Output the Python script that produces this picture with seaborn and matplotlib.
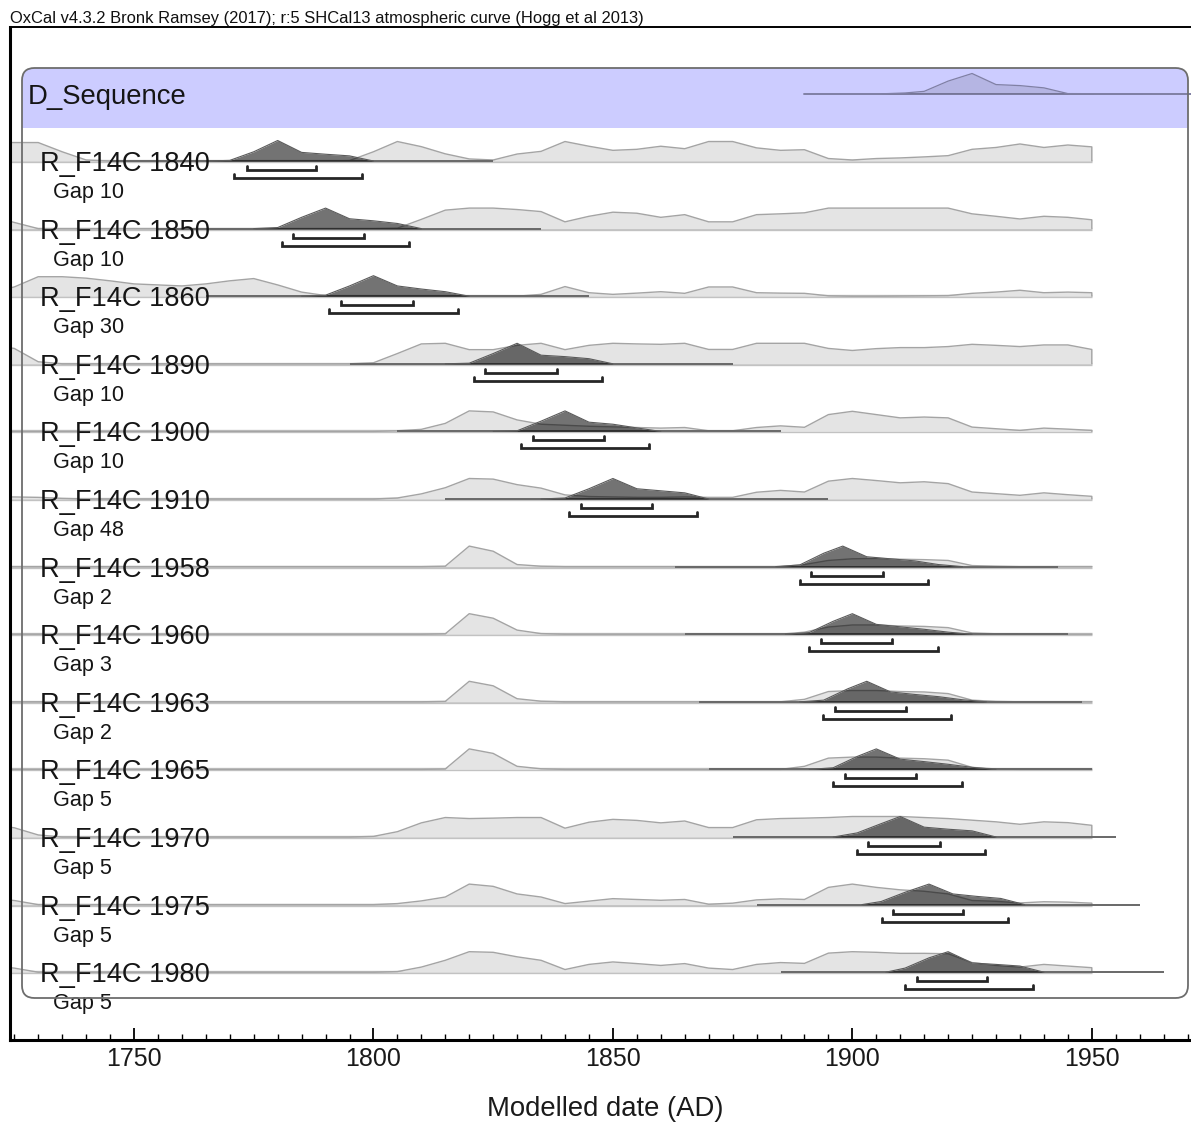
import numpy as np
import pandas as pd
import matplotlib
matplotlib.use("Agg")
import matplotlib.pyplot as plt
import seaborn as sns
from matplotlib.patches import FancyBboxPatch, Rectangle
from matplotlib.ticker import MultipleLocator

sns.set_theme(style="white")
plt.rcParams['font.family'] = ['Liberation Sans', 'DejaVu Sans']

# ---------------- data ----------------
ROW_LABELS = ["R_F14C 1840", "R_F14C 1850", "R_F14C 1860", "R_F14C 1890", "R_F14C 1900",
              "R_F14C 1910", "R_F14C 1958", "R_F14C 1960", "R_F14C 1963", "R_F14C 1965",
              "R_F14C 1970", "R_F14C 1975", "R_F14C 1980"]
GAP_LABELS = ["Gap 10", "Gap 10", "Gap 30", "Gap 10", "Gap 10", "Gap 48", "Gap 2",
              "Gap 3", "Gap 2", "Gap 5", "Gap 5", "Gap 5", "Gap 5"]

# likelihood (unmodelled) grid, 1720..1950 every 5 years
LIK_YEARS = list(range(1720, 1951, 5))
LIK_1840 = [.9, .9, .9, .45, .05, 0, 0, 0, 0, 0, 0, 0, 0, 0, 0, .02, .45, .95, .7, .35, .1, .05, .34, .47,
            .95, .72, .52, .57, .72, .6, .95, .95, .64, .52, .55, .12, .05, .12, .15, .2, .26, .57, .66, .83,
            .66, .78, .69]
LIK_1850 = [.6, .3, 0, 0, 0, 0, 0, 0, 0, 0, 0, 0, 0, 0, 0, 0, 0, .02, .45, .9, 1.0, 1.0, .93, .83,
            .33, .6, .8, .75, .55, .68, .33, .33, .68, .72, .77, 1.0, 1.0, 1.0, 1.0, 1.0, 1.0, .72, .6, .47,
            .6, .55, .43]
LIK_1860 = [.2, .45, .95, .95, .88, .75, .6, .55, .5, .6, .75, .86, .55, .2, .03, 0, 0, 0, 0, 0, 0, 0, 0, .09,
            .47, .17, .09, .15, .22, .14, .45, .45, .17, .15, .14, .02, 0, 0, .01, .02, .03, .14, .2, .29,
            .17, .2, .17]
LIK_1890 = [.9, .75, .1, 0, 0, 0, 0, 0, 0, 0, 0, 0, 0, 0, 0, 0, .05, .5, .97, 1.0, .69, .69, .9, 1.0,
            .69, .9, 1.0, .97, .95, 1.0, .7, .7, 1.0, 1.0, 1.0, .75, .65, .74, .79, .79, .84, .95, .9, .84,
            .92, .92, .7]
LIK_1900 = [0, 0, 0, 0, 0, 0, 0, 0, 0, 0, 0, 0, 0, 0, 0, 0, 0, .03, .1, .39, 1.0, .95, .56, .35,
            .3, .25, .22, .19, .16, .19, .03, .03, .19, .27, .2, .82, .98, .82, .66, .7, .66, .21, .13, .05,
            .16, .11, .05]
LIK_1910 = [.1, .1, .08, .03, 0, 0, 0, 0, 0, 0, 0, 0, 0, 0, 0, 0, 0, .05, .25, .55, 1.0, .97, .7, .53,
            .2, .12, .1, .08, .08, .1, .08, .08, .33, .42, .34, .87, 1.0, .9, .79, .84, .75, .34, .26, .18,
            .3, .21, .13]
LIK_1958 = [0, 0, 0, 0, 0, 0, 0, 0, 0, 0, 0, 0, 0, 0, 0, 0, 0, 0, 0, .02, 1.0, .75, .1, .02,
            0, 0, 0, 0, 0, 0, 0, 0, 0, 0, .1, .3, .38, .4, .36, .34, .3, .05, .02, 0,
            0, 0, 0]
LIK_1960 = [0, 0, 0, 0, 0, 0, 0, 0, 0, 0, 0, 0, 0, 0, 0, 0, 0, 0, 0, .02, 1.0, .78, .2, .03,
            0, 0, 0, 0, 0, 0, 0, 0, 0, 0, .1, .35, .45, .45, .4, .38, .32, .06, .02, 0,
            0, 0, 0]
LIK_1963 = [0, 0, 0, 0, 0, 0, 0, 0, 0, 0, 0, 0, 0, 0, 0, 0, 0, 0, 0, .02, 1.0, .78, .15, .03,
            0, 0, 0, 0, 0, 0, 0, 0, 0, 0, .12, .5, .55, .55, .5, .48, .4, .08, .02, 0,
            0, 0, 0]
LIK_1965 = [0, 0, 0, 0, 0, 0, 0, 0, 0, 0, 0, 0, 0, 0, 0, 0, 0, 0, 0, .02, 1.0, .78, .15, .03,
            0, 0, 0, 0, 0, 0, 0, 0, 0, 0, .15, .55, .6, .6, .55, .52, .45, .1, .02, 0,
            0, 0, 0]
LIK_1970 = [.6, .45, .1, 0, 0, 0, 0, 0, 0, 0, 0, 0, 0, 0, 0, 0, .03, .26, .69, .95, .9, .92, .95, .95,
            .43, .72, .86, .81, .69, .78, .46, .46, .84, .9, .92, .95, 1.0, 1.0, 1.0, .95, .9, .82, .74, .62,
            .74, .7, .57]
LIK_1975 = [.3, .2, 0, 0, 0, 0, 0, 0, 0, 0, 0, 0, 0, 0, 0, 0, 0, .05, .18, .37, 1.0, .89, .52, .37,
            .05, .17, .29, .25, .21, .25, .02, .07, .23, .28, .25, .84, 1.0, .84, .72, .65, .52, .2, .16, .08,
            .14, .12, .07]
LIK_1980 = [.3, .2, 0, 0, 0, 0, 0, 0, 0, 0, 0, 0, 0, 0, 0, 0, 0, .03, .25, .58, 1.0, .97, .75, .58,
            .13, .38, .5, .42, .33, .42, .2, .13, .38, .47, .43, .93, 1.0, .97, .92, .92, .9, .47, .33, .25,
            .38, .3, .22]
LIKELIHOODS = [LIK_1840, LIK_1850, LIK_1860, LIK_1890, LIK_1900, LIK_1910, LIK_1958, LIK_1960,
               LIK_1963, LIK_1965, LIK_1970, LIK_1975, LIK_1980]

# posterior (modelled) distributions
POST_YEARS = [
    [1765, 1770, 1775, 1780, 1785, 1790, 1795, 1800],
    [1775, 1780, 1785, 1790, 1795, 1800, 1805, 1810],
    [1785, 1790, 1795, 1800, 1805, 1810, 1815, 1820],
    [1815, 1820, 1825, 1830, 1835, 1840, 1845, 1850],
    [1825, 1830, 1835, 1840, 1845, 1850, 1855, 1860],
    [1835, 1840, 1845, 1850, 1855, 1860, 1865, 1870],
    [1884, 1889, 1894, 1898, 1903, 1908, 1913, 1918, 1923],
    [1886, 1891, 1896, 1900, 1905, 1910, 1915, 1920, 1925],
    [1889, 1894, 1899, 1903, 1908, 1913, 1918, 1923, 1928],
    [1891, 1896, 1901, 1905, 1910, 1915, 1920, 1925, 1930],
    [1896, 1901, 1906, 1910, 1915, 1920, 1925, 1930],
    [1902, 1906, 1911, 1916, 1921, 1926, 1931, 1936],
    [1907, 1911, 1916, 1920, 1925, 1930, 1935, 1940],
]
POST_PROB = [
    [0, .03, .45, 1.0, .42, .33, .25, 0],
    [0, .05, .55, 1.0, .48, .38, .25, 0],
    [0, .05, .5, 1.0, .5, .35, .22, 0],
    [0, .03, .5, 1.0, .42, .35, .25, 0],
    [0, .03, .5, 1.0, .45, .35, .17, 0],
    [0, .05, .5, 1.0, .5, .4, .3, 0],
    [0, .08, .65, 1.0, .48, .38, .28, .1, 0],
    [0, .08, .63, 1.0, .48, .36, .24, .1, 0],
    [0, .08, .63, 1.0, .48, .36, .25, .1, 0],
    [0, .08, .63, 1.0, .5, .38, .25, .1, 0],
    [0, .2, .65, 1.0, .48, .38, .3, 0],
    [0, .15, .6, 1.0, .52, .4, .3, 0],
    [0, .2, .7, 1.0, .45, .38, .3, 0],
]
POST_SPAN = [(1745, 1825), (1755, 1835), (1765, 1845), (1795, 1875), (1805, 1885), (1815, 1895),
             (1863, 1943), (1865, 1945), (1868, 1948), (1870, 1950), (1875, 1955), (1880, 1960),
             (1885, 1965)]
RANGE_68 = [(1773.5, 1788.1), (1783.3, 1798.1), (1793.3, 1808.2), (1823.2, 1838.3), (1833.3, 1848.1),
            (1843.3, 1858.2), (1891.4, 1906.3), (1893.5, 1908.2), (1896.4, 1911.3), (1898.5, 1913.2),
            (1903.3, 1918.2), (1908.4, 1923.2), (1913.6, 1928.2)]
RANGE_95 = [(1770.9, 1797.7), (1780.8, 1807.5), (1790.8, 1817.6), (1820.9, 1847.7), (1830.8, 1857.5),
            (1840.8, 1867.6), (1889.1, 1915.9), (1891.0, 1917.8), (1893.9, 1920.7), (1896.0, 1922.8),
            (1901.0, 1927.6), (1906.1, 1932.6), (1910.9, 1937.7)]
LIK_END = 1950

SEQ_YEARS = [1890, 1905, 1911, 1915, 1920, 1925, 1930, 1935, 1940, 1945, 1975]
SEQ_PROB = [0, 0, .05, .13, .63, 1.0, .46, .41, .3, .02, 0]

TITLE = "OxCal v4.3.2 Bronk Ramsey (2017); r:5 SHCal13 atmospheric curve (Hogg et al 2013)"
SEQ_NAME = "D_Sequence"
XLABEL = "Modelled date (AD)"
XTICKS = [1750, 1800, 1850, 1900, 1950]

# ---------------- layout ----------------
W, H = 1191, 1122
fig = plt.figure(figsize=(W / 100, H / 100), dpi=100)
fig.patch.set_facecolor("white")
AX_TOP, AX_BOT, AX_LEFT = 27, 1040, 10
ax = fig.add_axes([AX_LEFT / W, 1 - AX_BOT / H, 1 - AX_LEFT / W, (AX_BOT - AX_TOP) / H])
PXY = 4.789                       # pixels per year
X0 = 1750 - (134 - AX_LEFT) / PXY
X1 = 1750 + (W - 134) / PXY
ax.set_xlim(X0, X1)
ax.set_ylim(AX_BOT, AX_TOP)       # vertical axis in pixel rows
ax.set_facecolor("white")

ROW0, ROWSTEP, HSCALE = 161, 67.6, 20.5
BOX_L, BOX_R, BOX_T, BOX_B, HEAD_B = 22, 1188, 68, 998, 128
yr = lambda px: X0 + (px - AX_LEFT) / PXY

# sequence box
box = FancyBboxPatch((yr(BOX_L), BOX_T), yr(BOX_R) - yr(BOX_L), BOX_B - BOX_T,
                     boxstyle="round,pad=0,rounding_size=2.6", mutation_aspect=PXY,
                     fc="none", ec="#6d6d6d", lw=1.3, zorder=8)
ax.add_patch(box)
head = Rectangle((yr(BOX_L), BOX_T), yr(BOX_R) - yr(BOX_L), HEAD_B - BOX_T,
                 fc="#ccccff", ec="none", zorder=0.5)
ax.add_patch(head)
head.set_clip_path(box)

# sequence posterior in header
SEQ_BASE = 94
seq_y = SEQ_BASE - np.array(SEQ_PROB) * HSCALE
ax.plot([SEQ_YEARS[0], X1 + 5], [SEQ_BASE, SEQ_BASE], color="#8484a8", lw=1.4, zorder=1)
ax.fill_between(SEQ_YEARS, SEQ_BASE, seq_y, color="black", alpha=0.11, lw=0, zorder=1.1)
sns.lineplot(x=SEQ_YEARS, y=seq_y, ax=ax, color="#8080a4", lw=0.9, sort=False,
             estimator=None, zorder=1.2)
ax.text(yr(28), 104, SEQ_NAME, fontsize=19.8, color="#151515", ha="left", va="baseline", zorder=9)

for i in range(len(ROW_LABELS)):
    base = ROW0 + i * ROWSTEP
    lik = np.array(LIKELIHOODS[i])
    ly = base - lik * HSCALE
    # likelihood baseline and fill
    ax.plot([X0 - 5, LIK_END], [base, base], color="#c2c2c2", lw=2.4, zorder=2, solid_capstyle="butt")
    ax.fill_between(LIK_YEARS, base, ly, color="#e4e4e4", lw=0, zorder=2.1)
    sns.lineplot(x=LIK_YEARS + [LIK_END], y=list(ly) + [base], ax=ax, color="#a4a4a4", lw=1.0,
                 sort=False, estimator=None, zorder=2.2)
    # posterior
    py = base - np.array(POST_PROB[i]) * HSCALE
    ax.plot(POST_SPAN[i], [base, base], color="#686868", lw=1.4, zorder=3, solid_capstyle="butt")
    ax.fill_between(POST_YEARS[i], base, py, color="black", alpha=0.55, lw=0, zorder=3.1)
    sns.lineplot(x=POST_YEARS[i], y=py, ax=ax, color="#5a5a5a", lw=0.8, sort=False,
                 estimator=None, zorder=3.2)
    # ranges
    for (a, b), off in ((RANGE_68[i], 9), (RANGE_95[i], 17)):
        y = base + off
        ax.plot([a, a, b, b], [y - 4, y, y, y - 4], color="#262626", lw=2.0,
                solid_joinstyle="miter", zorder=5)
    ax.text(yr(40), base + 10, ROW_LABELS[i], fontsize=19.6, color="#151515",
            ha="left", va="baseline", zorder=6)
    ax.text(yr(53), base + 37, GAP_LABELS[i], fontsize=15.6, color="#151515",
            ha="left", va="baseline", zorder=6)

# axes styling
ax.spines["right"].set_visible(False)
ax.spines["left"].set_linewidth(2.2)
ax.spines["bottom"].set_linewidth(2.2)
ax.spines["top"].set_linewidth(1.4)
for s in ["left", "bottom", "top"]:
    ax.spines[s].set_color("black")
ax.set_yticks([])
ax.set_xticks(XTICKS)
ax.set_xticklabels([str(t) for t in XTICKS])
ax.xaxis.set_minor_locator(MultipleLocator(5))
ax.tick_params(axis="x", which="major", direction="in", length=9, width=1.3, colors="black",
               labelsize=18, labelcolor="#1a1a1a", pad=5, bottom=True, top=False)
ax.tick_params(axis="x", which="minor", direction="in", length=4.5, width=1.0, colors="black",
               bottom=True, top=False)
ax.set_xlabel(XLABEL, fontsize=19.8, color="#1a1a1a", labelpad=18)
ax.xaxis.label.set_position(((605 - AX_LEFT) / (W - AX_LEFT), 0))

fig.text(10 / W, 1 - 18 / H, TITLE, fontsize=11.9, color="#111111", ha="left", va="center")

fig.savefig("out.png", dpi=100, facecolor="white")
